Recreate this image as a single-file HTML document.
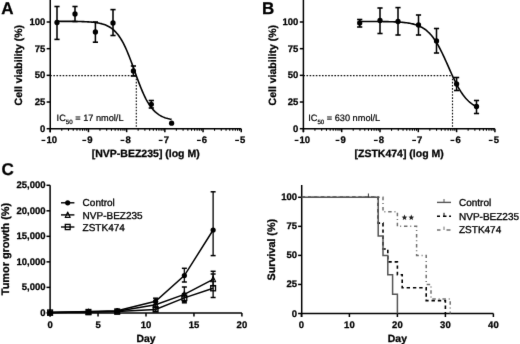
<!DOCTYPE html>
<html><head><meta charset="utf-8"><style>
html,body{margin:0;padding:0;background:#fff;width:520px;height:344px;overflow:hidden}
svg{display:block;will-change:transform}
text{font-family:"Liberation Sans",sans-serif;fill:#000;text-rendering:geometricPrecision}
text[font-weight=bold]{stroke:#000;stroke-width:0.28px}
</style></head><body>
<svg width="520" height="344" viewBox="0 0 520 344">
<defs><filter id="bl" x="0" y="0" width="520" height="344" filterUnits="userSpaceOnUse" color-interpolation-filters="sRGB"><feConvolveMatrix order="3" kernelMatrix="0.0052 0.0619 0.0052 0.0619 0.7314 0.0619 0.0052 0.0619 0.0052" edgeMode="duplicate"/></filter></defs>
<rect width="520" height="344" fill="#fff"/>
<g filter="url(#bl)">
<rect width="520" height="344" fill="#fff"/>
<text x="1.25" y="14.10" font-size="17" font-weight="bold" text-anchor="start" >A</text>
<line x1="50.25" y1="0.00" x2="50.25" y2="132.20" stroke="#000" stroke-width="1.5" />
<line x1="46.65" y1="128.70" x2="50.25" y2="128.70" stroke="#000" stroke-width="1.5" />
<text x="0" y="0" font-size="9.5" font-weight="bold" text-anchor="end" transform="translate(45.25,131.60) scale(1,1.0)">0</text>
<line x1="46.65" y1="102.02" x2="50.25" y2="102.02" stroke="#000" stroke-width="1.5" />
<text x="0" y="0" font-size="9.5" font-weight="bold" text-anchor="end" transform="translate(45.25,104.92) scale(1,1.0)">25</text>
<line x1="46.65" y1="75.35" x2="50.25" y2="75.35" stroke="#000" stroke-width="1.5" />
<text x="0" y="0" font-size="9.5" font-weight="bold" text-anchor="end" transform="translate(45.25,78.25) scale(1,1.0)">50</text>
<line x1="46.65" y1="48.67" x2="50.25" y2="48.67" stroke="#000" stroke-width="1.5" />
<text x="0" y="0" font-size="9.5" font-weight="bold" text-anchor="end" transform="translate(45.25,51.57) scale(1,1.0)">75</text>
<line x1="46.65" y1="22.00" x2="50.25" y2="22.00" stroke="#000" stroke-width="1.5" />
<text x="0" y="0" font-size="9.5" font-weight="bold" text-anchor="end" transform="translate(45.25,24.90) scale(1,1.0)">100</text>
<line x1="50.25" y1="128.70" x2="241.25" y2="128.70" stroke="#000" stroke-width="1.5" />
<line x1="50.25" y1="128.70" x2="50.25" y2="132.20" stroke="#000" stroke-width="1.5" />
<rect x="41.52" y="139.8" width="3.8" height="1.25" fill="#000"/>
<text x="0" y="0" font-size="9.5" font-weight="bold" text-anchor="start" transform="translate(46.42,142.90) scale(1,1.0)">10</text>
<line x1="61.75" y1="128.70" x2="61.75" y2="130.80" stroke="#000" stroke-width="1.1" />
<line x1="68.48" y1="128.70" x2="68.48" y2="130.80" stroke="#000" stroke-width="1.1" />
<line x1="73.25" y1="128.70" x2="73.25" y2="130.80" stroke="#000" stroke-width="1.1" />
<line x1="76.95" y1="128.70" x2="76.95" y2="130.80" stroke="#000" stroke-width="1.1" />
<line x1="79.98" y1="128.70" x2="79.98" y2="130.80" stroke="#000" stroke-width="1.1" />
<line x1="82.53" y1="128.70" x2="82.53" y2="130.80" stroke="#000" stroke-width="1.1" />
<line x1="84.75" y1="128.70" x2="84.75" y2="130.80" stroke="#000" stroke-width="1.1" />
<line x1="86.70" y1="128.70" x2="86.70" y2="130.80" stroke="#000" stroke-width="1.1" />
<line x1="88.45" y1="128.70" x2="88.45" y2="132.20" stroke="#000" stroke-width="1.5" />
<rect x="82.36" y="139.8" width="3.8" height="1.25" fill="#000"/>
<text x="0" y="0" font-size="9.5" font-weight="bold" text-anchor="start" transform="translate(87.26,142.90) scale(1,1.0)">9</text>
<line x1="99.95" y1="128.70" x2="99.95" y2="130.80" stroke="#000" stroke-width="1.1" />
<line x1="106.68" y1="128.70" x2="106.68" y2="130.80" stroke="#000" stroke-width="1.1" />
<line x1="111.45" y1="128.70" x2="111.45" y2="130.80" stroke="#000" stroke-width="1.1" />
<line x1="115.15" y1="128.70" x2="115.15" y2="130.80" stroke="#000" stroke-width="1.1" />
<line x1="118.18" y1="128.70" x2="118.18" y2="130.80" stroke="#000" stroke-width="1.1" />
<line x1="120.73" y1="128.70" x2="120.73" y2="130.80" stroke="#000" stroke-width="1.1" />
<line x1="122.95" y1="128.70" x2="122.95" y2="130.80" stroke="#000" stroke-width="1.1" />
<line x1="124.90" y1="128.70" x2="124.90" y2="130.80" stroke="#000" stroke-width="1.1" />
<line x1="126.65" y1="128.70" x2="126.65" y2="132.20" stroke="#000" stroke-width="1.5" />
<rect x="120.56" y="139.8" width="3.8" height="1.25" fill="#000"/>
<text x="0" y="0" font-size="9.5" font-weight="bold" text-anchor="start" transform="translate(125.46,142.90) scale(1,1.0)">8</text>
<line x1="138.15" y1="128.70" x2="138.15" y2="130.80" stroke="#000" stroke-width="1.1" />
<line x1="144.88" y1="128.70" x2="144.88" y2="130.80" stroke="#000" stroke-width="1.1" />
<line x1="149.65" y1="128.70" x2="149.65" y2="130.80" stroke="#000" stroke-width="1.1" />
<line x1="153.35" y1="128.70" x2="153.35" y2="130.80" stroke="#000" stroke-width="1.1" />
<line x1="156.38" y1="128.70" x2="156.38" y2="130.80" stroke="#000" stroke-width="1.1" />
<line x1="158.93" y1="128.70" x2="158.93" y2="130.80" stroke="#000" stroke-width="1.1" />
<line x1="161.15" y1="128.70" x2="161.15" y2="130.80" stroke="#000" stroke-width="1.1" />
<line x1="163.10" y1="128.70" x2="163.10" y2="130.80" stroke="#000" stroke-width="1.1" />
<line x1="164.85" y1="128.70" x2="164.85" y2="132.20" stroke="#000" stroke-width="1.5" />
<rect x="158.76" y="139.8" width="3.8" height="1.25" fill="#000"/>
<text x="0" y="0" font-size="9.5" font-weight="bold" text-anchor="start" transform="translate(163.66,142.90) scale(1,1.0)">7</text>
<line x1="176.35" y1="128.70" x2="176.35" y2="130.80" stroke="#000" stroke-width="1.1" />
<line x1="183.08" y1="128.70" x2="183.08" y2="130.80" stroke="#000" stroke-width="1.1" />
<line x1="187.85" y1="128.70" x2="187.85" y2="130.80" stroke="#000" stroke-width="1.1" />
<line x1="191.55" y1="128.70" x2="191.55" y2="130.80" stroke="#000" stroke-width="1.1" />
<line x1="194.58" y1="128.70" x2="194.58" y2="130.80" stroke="#000" stroke-width="1.1" />
<line x1="197.13" y1="128.70" x2="197.13" y2="130.80" stroke="#000" stroke-width="1.1" />
<line x1="199.35" y1="128.70" x2="199.35" y2="130.80" stroke="#000" stroke-width="1.1" />
<line x1="201.30" y1="128.70" x2="201.30" y2="130.80" stroke="#000" stroke-width="1.1" />
<line x1="203.05" y1="128.70" x2="203.05" y2="132.20" stroke="#000" stroke-width="1.5" />
<rect x="196.96" y="139.8" width="3.8" height="1.25" fill="#000"/>
<text x="0" y="0" font-size="9.5" font-weight="bold" text-anchor="start" transform="translate(201.86,142.90) scale(1,1.0)">6</text>
<line x1="214.55" y1="128.70" x2="214.55" y2="130.80" stroke="#000" stroke-width="1.1" />
<line x1="221.28" y1="128.70" x2="221.28" y2="130.80" stroke="#000" stroke-width="1.1" />
<line x1="226.05" y1="128.70" x2="226.05" y2="130.80" stroke="#000" stroke-width="1.1" />
<line x1="229.75" y1="128.70" x2="229.75" y2="130.80" stroke="#000" stroke-width="1.1" />
<line x1="232.78" y1="128.70" x2="232.78" y2="130.80" stroke="#000" stroke-width="1.1" />
<line x1="235.33" y1="128.70" x2="235.33" y2="130.80" stroke="#000" stroke-width="1.1" />
<line x1="237.55" y1="128.70" x2="237.55" y2="130.80" stroke="#000" stroke-width="1.1" />
<line x1="239.50" y1="128.70" x2="239.50" y2="130.80" stroke="#000" stroke-width="1.1" />
<line x1="241.25" y1="128.70" x2="241.25" y2="132.20" stroke="#000" stroke-width="1.5" />
<rect x="235.16" y="139.8" width="3.8" height="1.25" fill="#000"/>
<text x="0" y="0" font-size="9.5" font-weight="bold" text-anchor="start" transform="translate(240.06,142.90) scale(1,1.0)">5</text>
<text x="145.75" y="156.60" font-size="10.5" font-weight="bold" text-anchor="middle" >[NVP-BEZ235] (log M)</text>
<text x="0.00" y="0.00" font-size="10.5" font-weight="bold" text-anchor="middle" transform="translate(22.15,65.14999999999999) rotate(-90)">Cell viability (%)</text>
<line x1="50.25" y1="75.65" x2="136.30" y2="75.65" stroke="#111" stroke-width="1.15" stroke-dasharray="1.6 1.5"/>
<line x1="136.30" y1="75.65" x2="136.30" y2="128.70" stroke="#111" stroke-width="1.15" stroke-dasharray="1.6 1.5"/>
<text x="56.60" y="121.0" font-size="9.2" stroke="#000" stroke-width="0.2" font-family="Liberation Sans, sans-serif">IC<tspan font-size="6.2" dy="2.6">50</tspan><tspan dy="-2.6">&#160;= 17 nmol/L</tspan></text>
<path d="M57.00,21.32 L57.96,21.32 L58.93,21.32 L59.89,21.32 L60.85,21.33 L61.82,21.33 L62.78,21.33 L63.74,21.34 L64.70,21.34 L65.67,21.35 L66.63,21.35 L67.59,21.36 L68.56,21.36 L69.52,21.37 L70.48,21.38 L71.45,21.39 L72.41,21.40 L73.37,21.41 L74.33,21.42 L75.30,21.43 L76.26,21.45 L77.22,21.46 L78.19,21.48 L79.15,21.50 L80.11,21.53 L81.08,21.55 L82.04,21.58 L83.00,21.61 L83.96,21.65 L84.93,21.69 L85.89,21.73 L86.85,21.78 L87.82,21.83 L88.78,21.89 L89.74,21.96 L90.71,22.03 L91.67,22.12 L92.63,22.21 L93.59,22.31 L94.56,22.42 L95.52,22.55 L96.48,22.69 L97.45,22.84 L98.41,23.02 L99.37,23.21 L100.34,23.42 L101.30,23.65 L102.26,23.91 L103.23,24.20 L104.19,24.52 L105.15,24.87 L106.11,25.26 L107.08,25.69 L108.04,26.16 L109.00,26.69 L109.97,27.26 L110.93,27.89 L111.89,28.58 L112.86,29.34 L113.82,30.18 L114.78,31.08 L115.74,32.07 L116.71,33.15 L117.67,34.32 L118.63,35.58 L119.60,36.95 L120.56,38.42 L121.52,40.00 L122.49,41.69 L123.45,43.48 L124.41,45.39 L125.37,47.41 L126.34,49.53 L127.30,51.76 L128.26,54.08 L129.23,56.48 L130.19,58.97 L131.15,61.52 L132.12,64.12 L133.08,66.76 L134.04,69.43 L135.01,72.10 L135.97,74.77 L136.93,77.42 L137.89,80.04 L138.86,82.60 L139.82,85.11 L140.78,87.53 L141.75,89.88 L142.71,92.13 L143.67,94.28 L144.64,96.33 L145.60,98.27 L146.56,100.09 L147.52,101.81 L148.49,103.42 L149.45,104.92 L150.41,106.31 L151.38,107.61 L152.34,108.80 L153.30,109.90 L154.27,110.91 L155.23,111.84 L156.19,112.70 L157.15,113.48 L158.12,114.19 L159.08,114.83 L160.04,115.42 L161.01,115.96 L161.97,116.45 L162.93,116.89 L163.90,117.29 L164.86,117.65 L165.82,117.98 L166.78,118.27 L167.75,118.54 L168.71,118.78 L169.67,119.00 L170.64,119.19 L171.60,119.37" fill="none" stroke="#000" stroke-width="1.6"/>
<line x1="57.00" y1="6.50" x2="57.00" y2="39.40" stroke="#000" stroke-width="1.55" />
<line x1="54.40" y1="6.50" x2="59.60" y2="6.50" stroke="#000" stroke-width="1.6" />
<line x1="54.40" y1="39.40" x2="59.60" y2="39.40" stroke="#000" stroke-width="1.6" />
<circle cx="57.00" cy="22.50" r="2.65" fill="#000"/>
<line x1="75.00" y1="6.50" x2="75.00" y2="21.50" stroke="#000" stroke-width="1.55" />
<line x1="72.40" y1="6.50" x2="77.60" y2="6.50" stroke="#000" stroke-width="1.6" />
<line x1="72.40" y1="21.50" x2="77.60" y2="21.50" stroke="#000" stroke-width="1.6" />
<circle cx="75.00" cy="14.00" r="2.65" fill="#000"/>
<line x1="95.40" y1="22.00" x2="95.40" y2="42.20" stroke="#000" stroke-width="1.55" />
<line x1="92.80" y1="22.00" x2="98.00" y2="22.00" stroke="#000" stroke-width="1.6" />
<line x1="92.80" y1="42.20" x2="98.00" y2="42.20" stroke="#000" stroke-width="1.6" />
<circle cx="95.40" cy="32.00" r="2.65" fill="#000"/>
<line x1="113.00" y1="9.60" x2="113.00" y2="35.50" stroke="#000" stroke-width="1.55" />
<line x1="110.40" y1="9.60" x2="115.60" y2="9.60" stroke="#000" stroke-width="1.6" />
<line x1="110.40" y1="35.50" x2="115.60" y2="35.50" stroke="#000" stroke-width="1.6" />
<circle cx="113.00" cy="23.00" r="2.65" fill="#000"/>
<line x1="133.40" y1="66.00" x2="133.40" y2="76.00" stroke="#000" stroke-width="1.55" />
<line x1="130.80" y1="66.00" x2="136.00" y2="66.00" stroke="#000" stroke-width="1.6" />
<line x1="130.80" y1="76.00" x2="136.00" y2="76.00" stroke="#000" stroke-width="1.6" />
<circle cx="133.40" cy="71.00" r="2.65" fill="#000"/>
<line x1="151.30" y1="100.50" x2="151.30" y2="108.00" stroke="#000" stroke-width="1.55" />
<line x1="148.70" y1="100.50" x2="153.90" y2="100.50" stroke="#000" stroke-width="1.6" />
<line x1="148.70" y1="108.00" x2="153.90" y2="108.00" stroke="#000" stroke-width="1.6" />
<circle cx="151.30" cy="104.30" r="2.65" fill="#000"/>
<circle cx="171.60" cy="123.20" r="2.65" fill="#000"/>
<text x="262.00" y="14.10" font-size="17" font-weight="bold" text-anchor="start" >B</text>
<line x1="303.40" y1="0.00" x2="303.40" y2="132.20" stroke="#000" stroke-width="1.5" />
<line x1="299.80" y1="128.70" x2="303.40" y2="128.70" stroke="#000" stroke-width="1.5" />
<text x="0" y="0" font-size="9.5" font-weight="bold" text-anchor="end" transform="translate(298.40,131.60) scale(1,1.0)">0</text>
<line x1="299.80" y1="102.02" x2="303.40" y2="102.02" stroke="#000" stroke-width="1.5" />
<text x="0" y="0" font-size="9.5" font-weight="bold" text-anchor="end" transform="translate(298.40,104.92) scale(1,1.0)">25</text>
<line x1="299.80" y1="75.35" x2="303.40" y2="75.35" stroke="#000" stroke-width="1.5" />
<text x="0" y="0" font-size="9.5" font-weight="bold" text-anchor="end" transform="translate(298.40,78.25) scale(1,1.0)">50</text>
<line x1="299.80" y1="48.67" x2="303.40" y2="48.67" stroke="#000" stroke-width="1.5" />
<text x="0" y="0" font-size="9.5" font-weight="bold" text-anchor="end" transform="translate(298.40,51.57) scale(1,1.0)">75</text>
<line x1="299.80" y1="22.00" x2="303.40" y2="22.00" stroke="#000" stroke-width="1.5" />
<text x="0" y="0" font-size="9.5" font-weight="bold" text-anchor="end" transform="translate(298.40,24.90) scale(1,1.0)">100</text>
<line x1="303.40" y1="128.70" x2="494.90" y2="128.70" stroke="#000" stroke-width="1.5" />
<line x1="303.40" y1="128.70" x2="303.40" y2="132.20" stroke="#000" stroke-width="1.5" />
<rect x="294.67" y="139.8" width="3.8" height="1.25" fill="#000"/>
<text x="0" y="0" font-size="9.5" font-weight="bold" text-anchor="start" transform="translate(299.57,142.90) scale(1,1.0)">10</text>
<line x1="314.93" y1="128.70" x2="314.93" y2="130.80" stroke="#000" stroke-width="1.1" />
<line x1="321.67" y1="128.70" x2="321.67" y2="130.80" stroke="#000" stroke-width="1.1" />
<line x1="326.46" y1="128.70" x2="326.46" y2="130.80" stroke="#000" stroke-width="1.1" />
<line x1="330.17" y1="128.70" x2="330.17" y2="130.80" stroke="#000" stroke-width="1.1" />
<line x1="333.20" y1="128.70" x2="333.20" y2="130.80" stroke="#000" stroke-width="1.1" />
<line x1="335.77" y1="128.70" x2="335.77" y2="130.80" stroke="#000" stroke-width="1.1" />
<line x1="337.99" y1="128.70" x2="337.99" y2="130.80" stroke="#000" stroke-width="1.1" />
<line x1="339.95" y1="128.70" x2="339.95" y2="130.80" stroke="#000" stroke-width="1.1" />
<line x1="341.70" y1="128.70" x2="341.70" y2="132.20" stroke="#000" stroke-width="1.5" />
<rect x="335.61" y="139.8" width="3.8" height="1.25" fill="#000"/>
<text x="0" y="0" font-size="9.5" font-weight="bold" text-anchor="start" transform="translate(340.51,142.90) scale(1,1.0)">9</text>
<line x1="353.23" y1="128.70" x2="353.23" y2="130.80" stroke="#000" stroke-width="1.1" />
<line x1="359.97" y1="128.70" x2="359.97" y2="130.80" stroke="#000" stroke-width="1.1" />
<line x1="364.76" y1="128.70" x2="364.76" y2="130.80" stroke="#000" stroke-width="1.1" />
<line x1="368.47" y1="128.70" x2="368.47" y2="130.80" stroke="#000" stroke-width="1.1" />
<line x1="371.50" y1="128.70" x2="371.50" y2="130.80" stroke="#000" stroke-width="1.1" />
<line x1="374.07" y1="128.70" x2="374.07" y2="130.80" stroke="#000" stroke-width="1.1" />
<line x1="376.29" y1="128.70" x2="376.29" y2="130.80" stroke="#000" stroke-width="1.1" />
<line x1="378.25" y1="128.70" x2="378.25" y2="130.80" stroke="#000" stroke-width="1.1" />
<line x1="380.00" y1="128.70" x2="380.00" y2="132.20" stroke="#000" stroke-width="1.5" />
<rect x="373.91" y="139.8" width="3.8" height="1.25" fill="#000"/>
<text x="0" y="0" font-size="9.5" font-weight="bold" text-anchor="start" transform="translate(378.81,142.90) scale(1,1.0)">8</text>
<line x1="391.53" y1="128.70" x2="391.53" y2="130.80" stroke="#000" stroke-width="1.1" />
<line x1="398.27" y1="128.70" x2="398.27" y2="130.80" stroke="#000" stroke-width="1.1" />
<line x1="403.06" y1="128.70" x2="403.06" y2="130.80" stroke="#000" stroke-width="1.1" />
<line x1="406.77" y1="128.70" x2="406.77" y2="130.80" stroke="#000" stroke-width="1.1" />
<line x1="409.80" y1="128.70" x2="409.80" y2="130.80" stroke="#000" stroke-width="1.1" />
<line x1="412.37" y1="128.70" x2="412.37" y2="130.80" stroke="#000" stroke-width="1.1" />
<line x1="414.59" y1="128.70" x2="414.59" y2="130.80" stroke="#000" stroke-width="1.1" />
<line x1="416.55" y1="128.70" x2="416.55" y2="130.80" stroke="#000" stroke-width="1.1" />
<line x1="418.30" y1="128.70" x2="418.30" y2="132.20" stroke="#000" stroke-width="1.5" />
<rect x="412.21" y="139.8" width="3.8" height="1.25" fill="#000"/>
<text x="0" y="0" font-size="9.5" font-weight="bold" text-anchor="start" transform="translate(417.11,142.90) scale(1,1.0)">7</text>
<line x1="429.83" y1="128.70" x2="429.83" y2="130.80" stroke="#000" stroke-width="1.1" />
<line x1="436.57" y1="128.70" x2="436.57" y2="130.80" stroke="#000" stroke-width="1.1" />
<line x1="441.36" y1="128.70" x2="441.36" y2="130.80" stroke="#000" stroke-width="1.1" />
<line x1="445.07" y1="128.70" x2="445.07" y2="130.80" stroke="#000" stroke-width="1.1" />
<line x1="448.10" y1="128.70" x2="448.10" y2="130.80" stroke="#000" stroke-width="1.1" />
<line x1="450.67" y1="128.70" x2="450.67" y2="130.80" stroke="#000" stroke-width="1.1" />
<line x1="452.89" y1="128.70" x2="452.89" y2="130.80" stroke="#000" stroke-width="1.1" />
<line x1="454.85" y1="128.70" x2="454.85" y2="130.80" stroke="#000" stroke-width="1.1" />
<line x1="456.60" y1="128.70" x2="456.60" y2="132.20" stroke="#000" stroke-width="1.5" />
<rect x="450.51" y="139.8" width="3.8" height="1.25" fill="#000"/>
<text x="0" y="0" font-size="9.5" font-weight="bold" text-anchor="start" transform="translate(455.41,142.90) scale(1,1.0)">6</text>
<line x1="468.13" y1="128.70" x2="468.13" y2="130.80" stroke="#000" stroke-width="1.1" />
<line x1="474.87" y1="128.70" x2="474.87" y2="130.80" stroke="#000" stroke-width="1.1" />
<line x1="479.66" y1="128.70" x2="479.66" y2="130.80" stroke="#000" stroke-width="1.1" />
<line x1="483.37" y1="128.70" x2="483.37" y2="130.80" stroke="#000" stroke-width="1.1" />
<line x1="486.40" y1="128.70" x2="486.40" y2="130.80" stroke="#000" stroke-width="1.1" />
<line x1="488.97" y1="128.70" x2="488.97" y2="130.80" stroke="#000" stroke-width="1.1" />
<line x1="491.19" y1="128.70" x2="491.19" y2="130.80" stroke="#000" stroke-width="1.1" />
<line x1="493.15" y1="128.70" x2="493.15" y2="130.80" stroke="#000" stroke-width="1.1" />
<line x1="494.90" y1="128.70" x2="494.90" y2="132.20" stroke="#000" stroke-width="1.5" />
<rect x="488.81" y="139.8" width="3.8" height="1.25" fill="#000"/>
<text x="0" y="0" font-size="9.5" font-weight="bold" text-anchor="start" transform="translate(493.71,142.90) scale(1,1.0)">5</text>
<text x="399.15" y="156.60" font-size="10.5" font-weight="bold" text-anchor="middle" >[ZSTK474] (log M)</text>
<text x="0.00" y="0.00" font-size="10.5" font-weight="bold" text-anchor="middle" transform="translate(276.19999999999993,65.14999999999999) rotate(-90)">Cell viability (%)</text>
<line x1="303.40" y1="75.65" x2="452.50" y2="75.65" stroke="#111" stroke-width="1.15" stroke-dasharray="1.6 1.5"/>
<line x1="452.50" y1="75.65" x2="452.50" y2="128.70" stroke="#111" stroke-width="1.15" stroke-dasharray="1.6 1.5"/>
<text x="308.20" y="121.0" font-size="9.2" stroke="#000" stroke-width="0.2" font-family="Liberation Sans, sans-serif">IC<tspan font-size="6.2" dy="2.6">50</tspan><tspan dy="-2.6">&#160;= 630 nmol/L</tspan></text>
<path d="M359.70,21.46 L360.68,21.46 L361.66,21.46 L362.64,21.47 L363.63,21.47 L364.61,21.47 L365.59,21.47 L366.57,21.47 L367.55,21.48 L368.53,21.48 L369.52,21.48 L370.50,21.49 L371.48,21.49 L372.46,21.49 L373.44,21.50 L374.42,21.50 L375.40,21.51 L376.39,21.52 L377.37,21.52 L378.35,21.53 L379.33,21.54 L380.31,21.55 L381.29,21.56 L382.27,21.57 L383.26,21.58 L384.24,21.59 L385.22,21.61 L386.20,21.63 L387.18,21.64 L388.16,21.66 L389.15,21.69 L390.13,21.71 L391.11,21.74 L392.09,21.77 L393.07,21.80 L394.05,21.84 L395.03,21.88 L396.02,21.92 L397.00,21.97 L397.98,22.02 L398.96,22.08 L399.94,22.14 L400.92,22.22 L401.91,22.29 L402.89,22.38 L403.87,22.48 L404.85,22.58 L405.83,22.70 L406.81,22.82 L407.79,22.96 L408.78,23.12 L409.76,23.29 L410.74,23.47 L411.72,23.68 L412.70,23.90 L413.68,24.15 L414.66,24.42 L415.65,24.72 L416.63,25.04 L417.61,25.40 L418.59,25.79 L419.57,26.21 L420.55,26.68 L421.54,27.18 L422.52,27.74 L423.50,28.34 L424.48,28.99 L425.46,29.70 L426.44,30.47 L427.42,31.31 L428.41,32.21 L429.39,33.18 L430.37,34.22 L431.35,35.34 L432.33,36.54 L433.31,37.82 L434.29,39.18 L435.28,40.62 L436.26,42.15 L437.24,43.77 L438.22,45.47 L439.20,47.24 L440.18,49.09 L441.17,51.02 L442.15,53.01 L443.13,55.06 L444.11,57.16 L445.09,59.31 L446.07,61.49 L447.05,63.69 L448.04,65.91 L449.02,68.13 L450.00,70.35 L450.98,72.54 L451.96,74.71 L452.94,76.83 L453.93,78.91 L454.91,80.94 L455.89,82.90 L456.87,84.79 L457.85,86.61 L458.83,88.35 L459.81,90.01 L460.80,91.58 L461.78,93.08 L462.76,94.48 L463.74,95.81 L464.72,97.05 L465.70,98.21 L466.68,99.29 L467.67,100.30 L468.65,101.24 L469.63,102.11 L470.61,102.91 L471.59,103.65 L472.57,104.34 L473.56,104.97 L474.54,105.54 L475.52,106.08 L476.50,106.56" fill="none" stroke="#000" stroke-width="1.6"/>
<line x1="359.70" y1="19.50" x2="359.70" y2="27.00" stroke="#000" stroke-width="1.55" />
<line x1="357.10" y1="19.50" x2="362.30" y2="19.50" stroke="#000" stroke-width="1.6" />
<line x1="357.10" y1="27.00" x2="362.30" y2="27.00" stroke="#000" stroke-width="1.6" />
<circle cx="359.70" cy="23.00" r="2.65" fill="#000"/>
<line x1="380.00" y1="8.00" x2="380.00" y2="33.50" stroke="#000" stroke-width="1.55" />
<line x1="377.40" y1="8.00" x2="382.60" y2="8.00" stroke="#000" stroke-width="1.6" />
<line x1="377.40" y1="33.50" x2="382.60" y2="33.50" stroke="#000" stroke-width="1.6" />
<circle cx="380.00" cy="20.50" r="2.65" fill="#000"/>
<line x1="398.00" y1="7.60" x2="398.00" y2="35.00" stroke="#000" stroke-width="1.55" />
<line x1="395.40" y1="7.60" x2="400.60" y2="7.60" stroke="#000" stroke-width="1.6" />
<line x1="395.40" y1="35.00" x2="400.60" y2="35.00" stroke="#000" stroke-width="1.6" />
<circle cx="398.00" cy="21.50" r="2.65" fill="#000"/>
<line x1="418.50" y1="15.00" x2="418.50" y2="35.00" stroke="#000" stroke-width="1.55" />
<line x1="415.90" y1="15.00" x2="421.10" y2="15.00" stroke="#000" stroke-width="1.6" />
<line x1="415.90" y1="35.00" x2="421.10" y2="35.00" stroke="#000" stroke-width="1.6" />
<circle cx="418.50" cy="25.00" r="2.65" fill="#000"/>
<line x1="436.50" y1="28.50" x2="436.50" y2="53.00" stroke="#000" stroke-width="1.55" />
<line x1="433.90" y1="28.50" x2="439.10" y2="28.50" stroke="#000" stroke-width="1.6" />
<line x1="433.90" y1="53.00" x2="439.10" y2="53.00" stroke="#000" stroke-width="1.6" />
<circle cx="436.50" cy="41.00" r="2.65" fill="#000"/>
<line x1="456.60" y1="77.50" x2="456.60" y2="90.50" stroke="#000" stroke-width="1.55" />
<line x1="454.00" y1="77.50" x2="459.20" y2="77.50" stroke="#000" stroke-width="1.6" />
<line x1="454.00" y1="90.50" x2="459.20" y2="90.50" stroke="#000" stroke-width="1.6" />
<circle cx="456.60" cy="84.00" r="2.65" fill="#000"/>
<line x1="476.50" y1="100.50" x2="476.50" y2="113.50" stroke="#000" stroke-width="1.55" />
<line x1="473.90" y1="100.50" x2="479.10" y2="100.50" stroke="#000" stroke-width="1.6" />
<line x1="473.90" y1="113.50" x2="479.10" y2="113.50" stroke="#000" stroke-width="1.6" />
<circle cx="476.50" cy="106.50" r="2.65" fill="#000"/>
<text x="1.50" y="174.90" font-size="17" font-weight="bold" text-anchor="start" >C</text>
<line x1="50.10" y1="185.30" x2="50.10" y2="316.60" stroke="#000" stroke-width="1.5" />
<line x1="46.50" y1="312.90" x2="50.10" y2="312.90" stroke="#000" stroke-width="1.5" />
<text x="0" y="0" font-size="9.5" font-weight="bold" text-anchor="end" transform="translate(45.50,315.80) scale(1,1.0)">0</text>
<line x1="46.50" y1="287.38" x2="50.10" y2="287.38" stroke="#000" stroke-width="1.5" />
<text x="0" y="0" font-size="9.5" font-weight="bold" text-anchor="end" transform="translate(45.50,290.28) scale(1,1.0)">5,000</text>
<line x1="46.50" y1="261.86" x2="50.10" y2="261.86" stroke="#000" stroke-width="1.5" />
<text x="0" y="0" font-size="9.5" font-weight="bold" text-anchor="end" transform="translate(45.50,264.76) scale(1,1.0)">10,000</text>
<line x1="46.50" y1="236.34" x2="50.10" y2="236.34" stroke="#000" stroke-width="1.5" />
<text x="0" y="0" font-size="9.5" font-weight="bold" text-anchor="end" transform="translate(45.50,239.24) scale(1,1.0)">15,000</text>
<line x1="46.50" y1="210.82" x2="50.10" y2="210.82" stroke="#000" stroke-width="1.5" />
<text x="0" y="0" font-size="9.5" font-weight="bold" text-anchor="end" transform="translate(45.50,213.72) scale(1,1.0)">20,000</text>
<line x1="46.50" y1="185.30" x2="50.10" y2="185.30" stroke="#000" stroke-width="1.5" />
<text x="0" y="0" font-size="9.5" font-weight="bold" text-anchor="end" transform="translate(45.50,188.20) scale(1,1.0)">25,000</text>
<line x1="50.10" y1="312.90" x2="241.90" y2="312.90" stroke="#000" stroke-width="1.5" />
<line x1="50.10" y1="312.90" x2="50.10" y2="316.60" stroke="#000" stroke-width="1.5" />
<text x="0" y="0" font-size="9.5" font-weight="bold" text-anchor="middle" transform="translate(50.10,327.50) scale(1,1.0)">0</text>
<line x1="98.05" y1="312.90" x2="98.05" y2="316.60" stroke="#000" stroke-width="1.5" />
<text x="0" y="0" font-size="9.5" font-weight="bold" text-anchor="middle" transform="translate(98.05,327.50) scale(1,1.0)">5</text>
<line x1="146.00" y1="312.90" x2="146.00" y2="316.60" stroke="#000" stroke-width="1.5" />
<text x="0" y="0" font-size="9.5" font-weight="bold" text-anchor="middle" transform="translate(146.00,327.50) scale(1,1.0)">10</text>
<line x1="193.95" y1="312.90" x2="193.95" y2="316.60" stroke="#000" stroke-width="1.5" />
<text x="0" y="0" font-size="9.5" font-weight="bold" text-anchor="middle" transform="translate(193.95,327.50) scale(1,1.0)">15</text>
<line x1="241.90" y1="312.90" x2="241.90" y2="316.60" stroke="#000" stroke-width="1.5" />
<text x="0" y="0" font-size="9.5" font-weight="bold" text-anchor="middle" transform="translate(241.90,327.50) scale(1,1.0)">20</text>
<text x="146.00" y="342.00" font-size="10.4" font-weight="bold" text-anchor="middle" >Day</text>
<text x="0.00" y="0.00" font-size="10.9" font-weight="bold" text-anchor="middle" transform="translate(9.4,249.0) rotate(-90)">Tumor growth (%)</text>
<path d="M50.10,312.60 L88.46,312.10 L117.23,311.60 L155.59,309.40 L184.36,297.90 L213.13,288.20" fill="none" stroke="#000" stroke-width="1.5"/>
<path d="M50.10,312.50 L88.46,311.90 L117.23,311.30 L155.59,304.80 L184.36,294.40 L213.13,279.30" fill="none" stroke="#000" stroke-width="1.5"/>
<path d="M50.10,312.50 L88.46,311.60 L117.23,310.80 L155.59,301.30 L184.36,275.60 L213.13,230.00" fill="none" stroke="#000" stroke-width="1.5"/>
<line x1="155.59" y1="307.60" x2="155.59" y2="311.30" stroke="#111" stroke-width="1.4" />
<line x1="153.09" y1="307.60" x2="158.09" y2="307.60" stroke="#000" stroke-width="1.5" />
<line x1="153.09" y1="311.30" x2="158.09" y2="311.30" stroke="#000" stroke-width="1.5" />
<line x1="184.36" y1="293.60" x2="184.36" y2="302.80" stroke="#111" stroke-width="1.4" />
<line x1="181.86" y1="293.60" x2="186.86" y2="293.60" stroke="#000" stroke-width="1.5" />
<line x1="181.86" y1="302.80" x2="186.86" y2="302.80" stroke="#000" stroke-width="1.5" />
<line x1="213.13" y1="274.00" x2="213.13" y2="297.50" stroke="#111" stroke-width="1.4" />
<line x1="210.63" y1="274.00" x2="215.63" y2="274.00" stroke="#000" stroke-width="1.5" />
<line x1="210.63" y1="297.50" x2="215.63" y2="297.50" stroke="#000" stroke-width="1.5" />
<line x1="155.59" y1="302.00" x2="155.59" y2="307.60" stroke="#111" stroke-width="1.4" />
<line x1="153.09" y1="302.00" x2="158.09" y2="302.00" stroke="#000" stroke-width="1.5" />
<line x1="153.09" y1="307.60" x2="158.09" y2="307.60" stroke="#000" stroke-width="1.5" />
<line x1="184.36" y1="287.00" x2="184.36" y2="301.50" stroke="#111" stroke-width="1.4" />
<line x1="181.86" y1="287.00" x2="186.86" y2="287.00" stroke="#000" stroke-width="1.5" />
<line x1="181.86" y1="301.50" x2="186.86" y2="301.50" stroke="#000" stroke-width="1.5" />
<line x1="213.13" y1="271.30" x2="213.13" y2="285.70" stroke="#111" stroke-width="1.4" />
<line x1="210.63" y1="271.30" x2="215.63" y2="271.30" stroke="#000" stroke-width="1.5" />
<line x1="210.63" y1="285.70" x2="215.63" y2="285.70" stroke="#000" stroke-width="1.5" />
<line x1="155.59" y1="298.20" x2="155.59" y2="304.40" stroke="#111" stroke-width="1.4" />
<line x1="153.09" y1="298.20" x2="158.09" y2="298.20" stroke="#000" stroke-width="1.5" />
<line x1="153.09" y1="304.40" x2="158.09" y2="304.40" stroke="#000" stroke-width="1.5" />
<line x1="184.36" y1="268.30" x2="184.36" y2="282.00" stroke="#111" stroke-width="1.4" />
<line x1="181.86" y1="268.30" x2="186.86" y2="268.30" stroke="#000" stroke-width="1.5" />
<line x1="181.86" y1="282.00" x2="186.86" y2="282.00" stroke="#000" stroke-width="1.5" />
<line x1="213.13" y1="191.80" x2="213.13" y2="255.60" stroke="#111" stroke-width="1.4" />
<line x1="210.63" y1="191.80" x2="215.63" y2="191.80" stroke="#000" stroke-width="1.5" />
<line x1="210.63" y1="255.60" x2="215.63" y2="255.60" stroke="#000" stroke-width="1.5" />
<rect x="47.70" y="310.00" width="4.8" height="5.2" fill="none" stroke="#000" stroke-width="1.3"/>
<rect x="86.06" y="309.50" width="4.8" height="5.2" fill="none" stroke="#000" stroke-width="1.3"/>
<rect x="114.83" y="309.00" width="4.8" height="5.2" fill="none" stroke="#000" stroke-width="1.3"/>
<rect x="153.19" y="306.80" width="4.8" height="5.2" fill="none" stroke="#000" stroke-width="1.3"/>
<rect x="181.96" y="295.30" width="4.8" height="5.2" fill="none" stroke="#000" stroke-width="1.3"/>
<rect x="210.73" y="285.60" width="4.8" height="5.2" fill="none" stroke="#000" stroke-width="1.3"/>
<path d="M50.10,309.70 L52.60,315.00 L47.60,315.00 Z" fill="none" stroke="#000" stroke-width="1.1" stroke-linejoin="round"/>
<path d="M88.46,309.10 L90.96,314.40 L85.96,314.40 Z" fill="none" stroke="#000" stroke-width="1.1" stroke-linejoin="round"/>
<path d="M117.23,308.50 L119.73,313.80 L114.73,313.80 Z" fill="none" stroke="#000" stroke-width="1.1" stroke-linejoin="round"/>
<path d="M155.59,302.00 L158.09,307.30 L153.09,307.30 Z" fill="none" stroke="#000" stroke-width="1.1" stroke-linejoin="round"/>
<path d="M184.36,291.60 L186.86,296.90 L181.86,296.90 Z" fill="none" stroke="#000" stroke-width="1.1" stroke-linejoin="round"/>
<path d="M213.13,276.50 L215.63,281.80 L210.63,281.80 Z" fill="none" stroke="#000" stroke-width="1.1" stroke-linejoin="round"/>
<circle cx="50.10" cy="312.50" r="2.6" fill="#000"/>
<circle cx="88.46" cy="311.60" r="2.6" fill="#000"/>
<circle cx="117.23" cy="310.80" r="2.6" fill="#000"/>
<circle cx="155.59" cy="301.30" r="2.6" fill="#000"/>
<circle cx="184.36" cy="275.60" r="2.6" fill="#000"/>
<circle cx="213.13" cy="230.00" r="2.6" fill="#000"/>
<line x1="61.00" y1="202.80" x2="74.40" y2="202.80" stroke="#000" stroke-width="1.4" />
<circle cx="67.70" cy="202.80" r="2.6" fill="#000"/>
<text x="82.60" y="206.40" font-size="10" font-weight="normal" text-anchor="start" stroke="#000" stroke-width="0.32">Control</text>
<line x1="61.00" y1="214.90" x2="74.40" y2="214.90" stroke="#000" stroke-width="1.4" />
<path d="M67.70,212.10 L70.20,217.40 L65.20,217.40 Z" fill="none" stroke="#000" stroke-width="1.1" stroke-linejoin="round"/>
<text x="82.60" y="218.50" font-size="10" font-weight="normal" text-anchor="start" stroke="#000" stroke-width="0.32">NVP-BEZ235</text>
<line x1="61.00" y1="227.00" x2="74.40" y2="227.00" stroke="#000" stroke-width="1.4" />
<rect x="65.30" y="224.40" width="4.8" height="5.2" fill="none" stroke="#000" stroke-width="1.3"/>
<text x="82.60" y="230.60" font-size="10" font-weight="normal" text-anchor="start" stroke="#000" stroke-width="0.32">ZSTK474</text>
<line x1="301.70" y1="185.00" x2="301.70" y2="317.00" stroke="#000" stroke-width="1.5" />
<line x1="298.10" y1="313.50" x2="301.70" y2="313.50" stroke="#000" stroke-width="1.5" />
<text x="0" y="0" font-size="9.5" font-weight="bold" text-anchor="end" transform="translate(297.10,316.50) scale(1,1.0)">0</text>
<line x1="298.10" y1="284.45" x2="301.70" y2="284.45" stroke="#000" stroke-width="1.5" />
<text x="0" y="0" font-size="9.5" font-weight="bold" text-anchor="end" transform="translate(297.10,287.45) scale(1,1.0)">25</text>
<line x1="298.10" y1="255.40" x2="301.70" y2="255.40" stroke="#000" stroke-width="1.5" />
<text x="0" y="0" font-size="9.5" font-weight="bold" text-anchor="end" transform="translate(297.10,258.40) scale(1,1.0)">50</text>
<line x1="298.10" y1="226.35" x2="301.70" y2="226.35" stroke="#000" stroke-width="1.5" />
<text x="0" y="0" font-size="9.5" font-weight="bold" text-anchor="end" transform="translate(297.10,229.35) scale(1,1.0)">75</text>
<line x1="298.10" y1="197.30" x2="301.70" y2="197.30" stroke="#000" stroke-width="1.5" />
<text x="0" y="0" font-size="9.5" font-weight="bold" text-anchor="end" transform="translate(297.10,200.30) scale(1,1.0)">100</text>
<line x1="301.70" y1="313.50" x2="493.40" y2="313.50" stroke="#000" stroke-width="1.5" />
<line x1="301.40" y1="313.50" x2="301.40" y2="317.00" stroke="#000" stroke-width="1.5" />
<text x="0" y="0" font-size="9.5" font-weight="bold" text-anchor="middle" transform="translate(301.40,328.00) scale(1,1.0)">0</text>
<line x1="349.40" y1="313.50" x2="349.40" y2="317.00" stroke="#000" stroke-width="1.5" />
<text x="0" y="0" font-size="9.5" font-weight="bold" text-anchor="middle" transform="translate(349.40,328.00) scale(1,1.0)">10</text>
<line x1="397.40" y1="313.50" x2="397.40" y2="317.00" stroke="#000" stroke-width="1.5" />
<text x="0" y="0" font-size="9.5" font-weight="bold" text-anchor="middle" transform="translate(397.40,328.00) scale(1,1.0)">20</text>
<line x1="445.40" y1="313.50" x2="445.40" y2="317.00" stroke="#000" stroke-width="1.5" />
<text x="0" y="0" font-size="9.5" font-weight="bold" text-anchor="middle" transform="translate(445.40,328.00) scale(1,1.0)">30</text>
<line x1="493.40" y1="313.50" x2="493.40" y2="317.00" stroke="#000" stroke-width="1.5" />
<text x="0" y="0" font-size="9.5" font-weight="bold" text-anchor="middle" transform="translate(493.40,328.00) scale(1,1.0)">40</text>
<text x="397.40" y="342.00" font-size="10.4" font-weight="bold" text-anchor="middle" >Day</text>
<text x="0.00" y="0.00" font-size="10.75" font-weight="bold" text-anchor="middle" transform="translate(275.3,249.7) rotate(-90)">Survival (%)</text>
<path d="M301.70,197.30 L378.20,197.30 L378.20,223.12 L383.00,223.12 L383.00,248.94 L387.80,248.94 L387.80,261.86 L397.40,261.86 L397.40,274.77 L402.20,274.77 L402.20,287.68 L426.20,287.68 L426.20,300.59 L445.40,300.59 L445.40,313.50" fill="none" stroke="#000" stroke-width="1.6" stroke-dasharray="3.4 2.9"/>
<path d="M301.70,197.30 L383.00,197.30 L383.00,211.83 L397.40,211.83 L397.40,226.35 L416.60,226.35 L416.60,255.40 L426.20,255.40 L426.20,284.45 L431.00,284.45 L431.00,298.98 L450.20,298.98 L450.20,313.50" fill="none" stroke="#707070" stroke-width="1.5" stroke-dasharray="3.5 2.8 1 2.8"/>
<path d="M301.70,197.30 L378.20,197.30 L378.20,236.03 L383.00,236.03 L383.00,255.40 L387.80,255.40 L387.80,274.77 L392.60,274.77 L392.60,294.13 L397.40,294.13 L397.40,313.50" fill="none" stroke="#555" stroke-width="1.5"/>
<line x1="368.40" y1="193.50" x2="368.40" y2="197.30" stroke="#333" stroke-width="1.0" />
<polygon points="404.50,214.60 405.29,216.51 407.35,216.67 405.78,218.02 406.26,220.03 404.50,218.95 402.74,220.03 403.22,218.02 401.65,216.67 403.71,216.51" fill="#222"/>
<polygon points="411.30,214.60 412.09,216.51 414.15,216.67 412.58,218.02 413.06,220.03 411.30,218.95 409.54,220.03 410.02,218.02 408.45,216.67 410.51,216.51" fill="#222"/>
<line x1="437.00" y1="202.40" x2="451.00" y2="202.40" stroke="#555" stroke-width="1.4" />
<line x1="444.00" y1="199.00" x2="444.00" y2="202.40" stroke="#555" stroke-width="1.0" />
<text x="459.00" y="205.70" font-size="10" font-weight="normal" text-anchor="start" stroke="#000" stroke-width="0.32">Control</text>
<line x1="437.00" y1="216.20" x2="451.00" y2="216.20" stroke="#000" stroke-width="1.6" stroke-dasharray="3 3 3.5 2.6 2"/>
<line x1="444.00" y1="212.80" x2="444.00" y2="216.20" stroke="#000" stroke-width="1.0" />
<text x="459.00" y="219.50" font-size="10" font-weight="normal" text-anchor="start" stroke="#000" stroke-width="0.32">NVP-BEZ235</text>
<line x1="437.00" y1="230.00" x2="451.00" y2="230.00" stroke="#707070" stroke-width="1.5" stroke-dasharray="3.5 6 4"/>
<line x1="444.00" y1="226.60" x2="444.00" y2="230.00" stroke="#707070" stroke-width="1.0" />
<text x="459.00" y="233.30" font-size="10" font-weight="normal" text-anchor="start" stroke="#000" stroke-width="0.32">ZSTK474</text>
</g>
</svg>
</body></html>
